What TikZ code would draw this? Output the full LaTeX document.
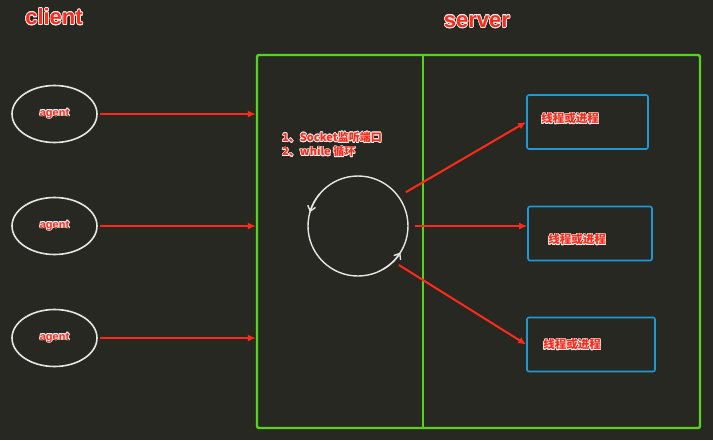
\documentclass[tikz,border=0pt]{standalone}
\usepackage{fontspec}
\setmainfont{Liberation Sans}
\newfontfamily\cjk{Noto Sans CJK SC}
\usepackage[copies]{contour}
\contourlength{0.7pt}
\usetikzlibrary{shapes.geometric,arrows.meta}
\definecolor{bg}{HTML}{272822}
\definecolor{hot}{HTML}{FF2A1A}
\definecolor{frame}{HTML}{57D21E}
\definecolor{proc}{HTML}{1F98D4}
\definecolor{ring}{HTML}{E6E6E6}
\newcommand{\halo}[1]{\contour{white!85!gray}{#1}}

\begin{document}
\begin{tikzpicture}[x=1pt,y=-1pt,
  agent/.style={ellipse,draw=ring,line width=1.6pt,minimum width=85pt,minimum height=57pt,
    text=hot,font=\bfseries\fontsize{11}{11}\selectfont},
  req/.style={hot,line width=2pt,-{Latex[length=8pt,width=7pt]}},
  worker/.style={draw=proc,line width=1.6pt,rounded corners=2pt,minimum height=54pt},
  wlabel/.style={text=hot,font=\cjk\bfseries\fontsize{11.5}{11.5}\selectfont,inner sep=1pt},
  title/.style={text=hot,font=\bfseries\fontsize{22}{22}\selectfont}]
\fill[bg] (0,0) rectangle (713,440);

\node[title] (client) at (54,17) {\halo{client}};
\node[title] (srvtitle) at (477,22) {\halo{server}};

% clients
\foreach \i/\y in {1/114,2/226,3/338}
  \node[agent] (a\i) at (54.5,\y) {\halo{agent}};

% server
\node[draw=frame,line width=2.4pt,rounded corners=2pt,minimum width=443pt,minimum height=373pt] (srv) at (478.5,241.5) {};
\coordinate (cut) at (423,0);
\draw[frame,line width=1.4pt] (srv.north -| cut) -- (srv.south -| cut);

\foreach \i in {1,2,3}
  \draw[req,shorten <=2pt] (a\i.east) -- (a\i.east -| srv.west);

\node[anchor=west,text=hot,font=\cjk\bfseries\fontsize{11}{11}\selectfont,align=left,inner sep=0pt] (note) at (282,145)
  {\halo{1、Socket监听端口}\\[2pt]\halo{2、while 循环}};

% event loop
\node[circle,draw=ring,line width=1.4pt,minimum size=100pt] (loop) at (358,226) {};
\draw[ring,line width=1.4pt,-{Straight Barb[length=5pt,width=8pt]}] ([shift={(220:50)}]loop.center) arc (220:196:50);
\draw[ring,line width=1.4pt,-{Straight Barb[length=5pt,width=8pt]}] ([shift={(60:50)}]loop.center) arc (60:32:50);

% workers
\node[worker,minimum width=121pt] (w1) at (587.5,122) {};
\node[worker,minimum width=124pt] (w2) at (590,233.5) {};
\node[worker,minimum width=128pt] (w3) at (591,344.5) {};
\node[wlabel] (l1) at (570,119) {\halo{线程或进程}};
\node[wlabel] (l2) at (577,240) {\halo{线程或进程}};
\node[wlabel] (l3) at (572,345) {\halo{线程或进程}};

\draw[req,shorten <=8pt] (loop.36) -- (w1.west);
\draw[req,shorten <=6pt] (loop.east) -- (loop.east -| w2.west);
\draw[req,shorten <=6pt] (loop.-45) -- (w3.west);
\end{tikzpicture}
\end{document}
